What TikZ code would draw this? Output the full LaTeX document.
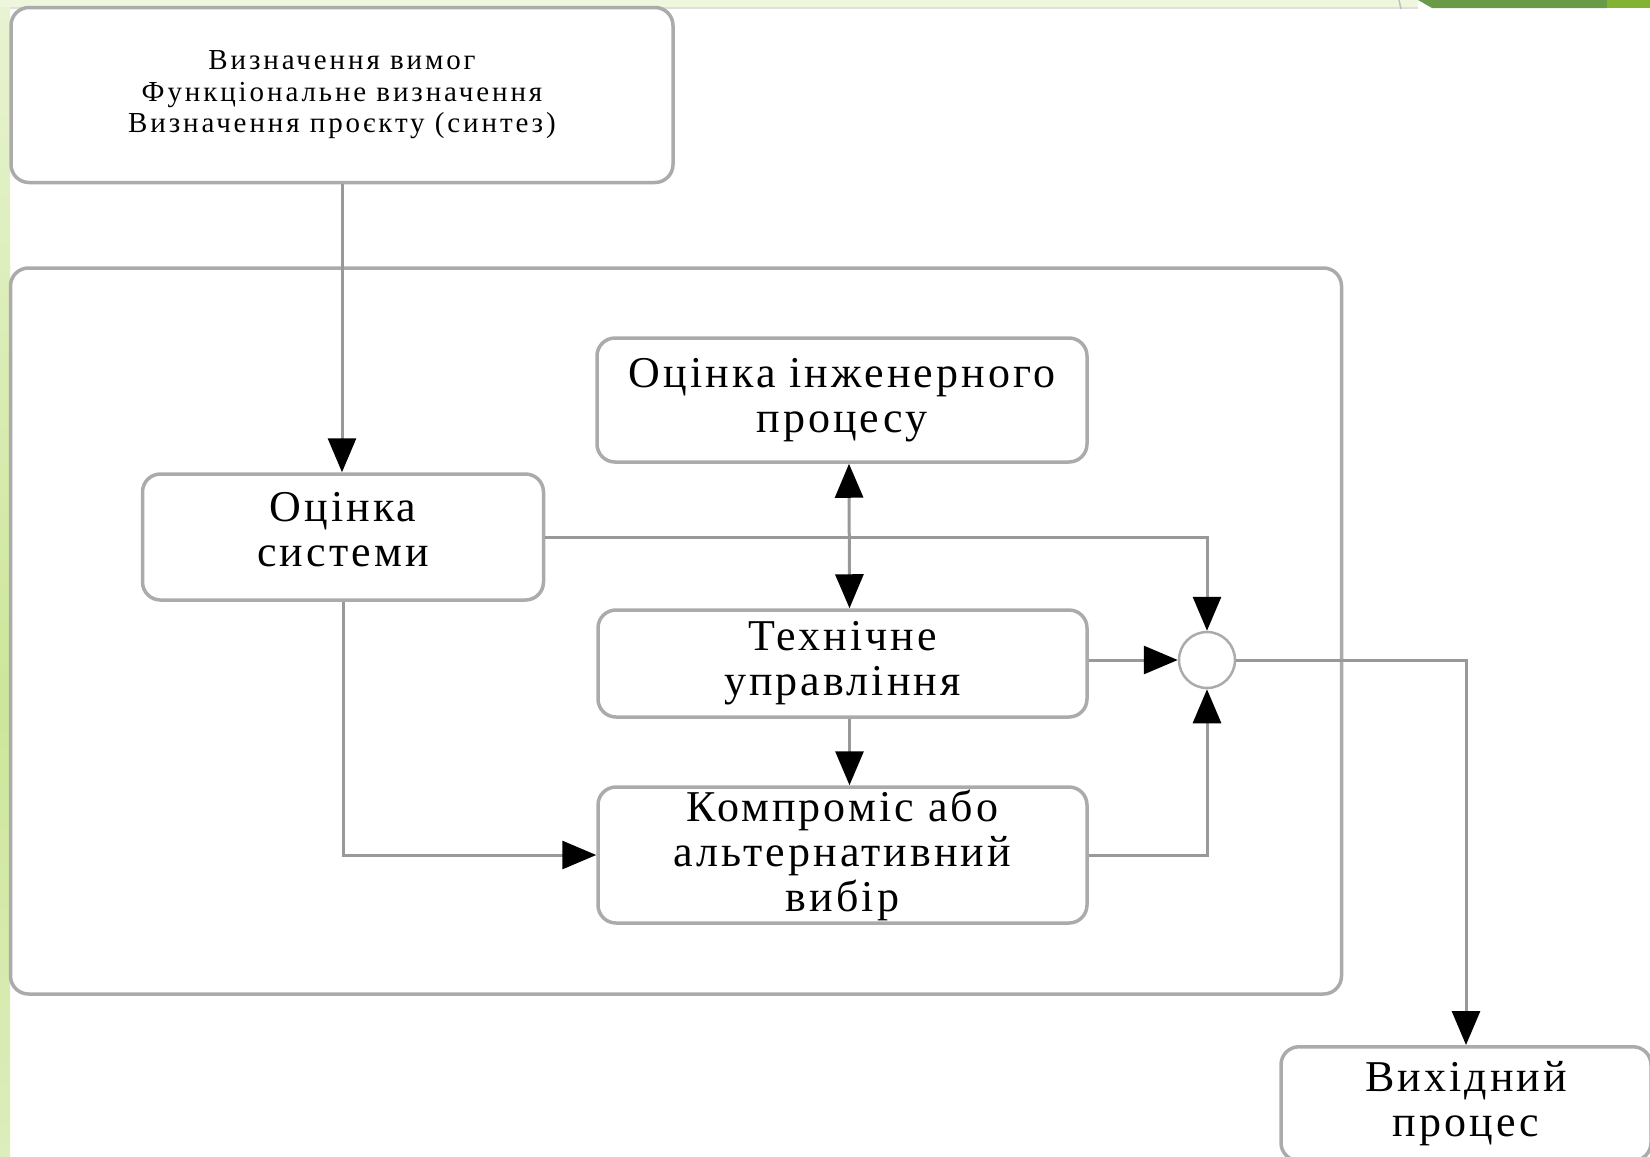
\documentclass[tikz,border=0pt]{standalone}
\usepackage{fontspec}
\setmainfont{Liberation Serif}
\newfontfamily\spaced[LetterSpace=7]{Liberation Serif}
\newfontfamily\spacedsmall[LetterSpace=10]{Liberation Serif}
\usetikzlibrary{arrows.meta}
\definecolor{boxgray}{HTML}{ABABAB}
\definecolor{linegray}{HTML}{999999}
\definecolor{stripA}{HTML}{E8F3D2}
\definecolor{stripB}{HTML}{CDE69A}
\definecolor{stripC}{HTML}{DDEDBC}
\definecolor{topstrip}{HTML}{EEF7DE}
\definecolor{darkgreen}{HTML}{6A9A48}
\definecolor{lightgreen}{HTML}{84B232}
\begin{document}
\begin{tikzpicture}[x=1pt,y=-1pt,
  boxstyle/.style={draw=boxgray, line width=3.5pt, rounded corners=18pt, fill=white,
    align=center, inner sep=0pt, font=\spaced\fontsize{44}{45}\selectfont},
  conn/.style={draw=linegray, line width=3pt,
    -{Triangle[length=34pt,width=28pt,color=black]}},
  conn2/.style={draw=linegray, line width=3pt,
    {Triangle[length=34pt,width=28pt,color=black]}-{Triangle[length=34pt,width=28pt,color=black]}}
]
\useasboundingbox (0,0) rectangle (1650,1157);
% slide background
\fill[white] (0,0) rectangle (1650,1157);
\shade[top color=stripA, bottom color=stripB] (0,0) rectangle (10,700);
\shade[top color=stripB, bottom color=stripC] (0,700) rectangle (10,1157);
\fill[topstrip] (0,0) rectangle (1418,7);
\fill[gray!25] (10,7) rectangle (1418,9);
\fill[darkgreen] (1418,0) -- (1607,0) -- (1607,8) -- (1432,8) -- cycle;
\fill[lightgreen] (1607,0) rectangle (1650,8);
\draw[gray!50, line width=1.5pt] (1399,0) -- (1401,9);

% frame and boxes
\node[boxstyle, minimum width=1331pt, minimum height=726pt] (frame) at (676,631) {};
\node[boxstyle, minimum width=662pt, minimum height=175pt,
  font=\spacedsmall\fontsize{29}{31.5}\selectfont] (topbox) at (342,95)
  {Визначення вимог\\Функціональне визначення\\Визначення проєкту (синтез)};
\node[boxstyle, minimum width=401pt, minimum height=126pt, text depth=16pt] (sys) at (343,537) {Оцінка\\системи};
\node[boxstyle, minimum width=490pt, minimum height=124pt] (eng) at (842,400) {Оцінка інженерного\\процесу};
\node[boxstyle, minimum width=489pt, minimum height=107pt] (tech) at (842.5,663.5) {Технічне\\управління};
\node[boxstyle, minimum width=489pt, minimum height=136pt] (komp) at (842.5,855) {Компроміс або\\альтернативний\\вибір};
\node[boxstyle, minimum width=370pt, minimum height=114pt, anchor=north] (out) at (1466,1045) {Вихідний\\процес};
\node[circle, draw=boxgray, line width=2.5pt, fill=white, minimum size=56pt, inner sep=0pt] (junc) at (1207,660) {};

% connectors
\draw[conn] (topbox.south) -- (topbox.south |- sys.north);
\draw[conn] (sys.east) -| (junc.north);
\draw[conn] (sys.south) |- (komp.west);
\draw[conn2] ([xshift=7pt]eng.south) -- ([xshift=7pt]tech.north);
\draw[conn] ([xshift=7pt]tech.south) -- ([xshift=7pt]komp.north);
\draw[conn] (tech.east |- junc) -- (junc.west);
\draw[conn] (komp.east) -| (junc.south);
\draw[conn] (junc.east) -| (out.north);
\end{tikzpicture}
\end{document}
